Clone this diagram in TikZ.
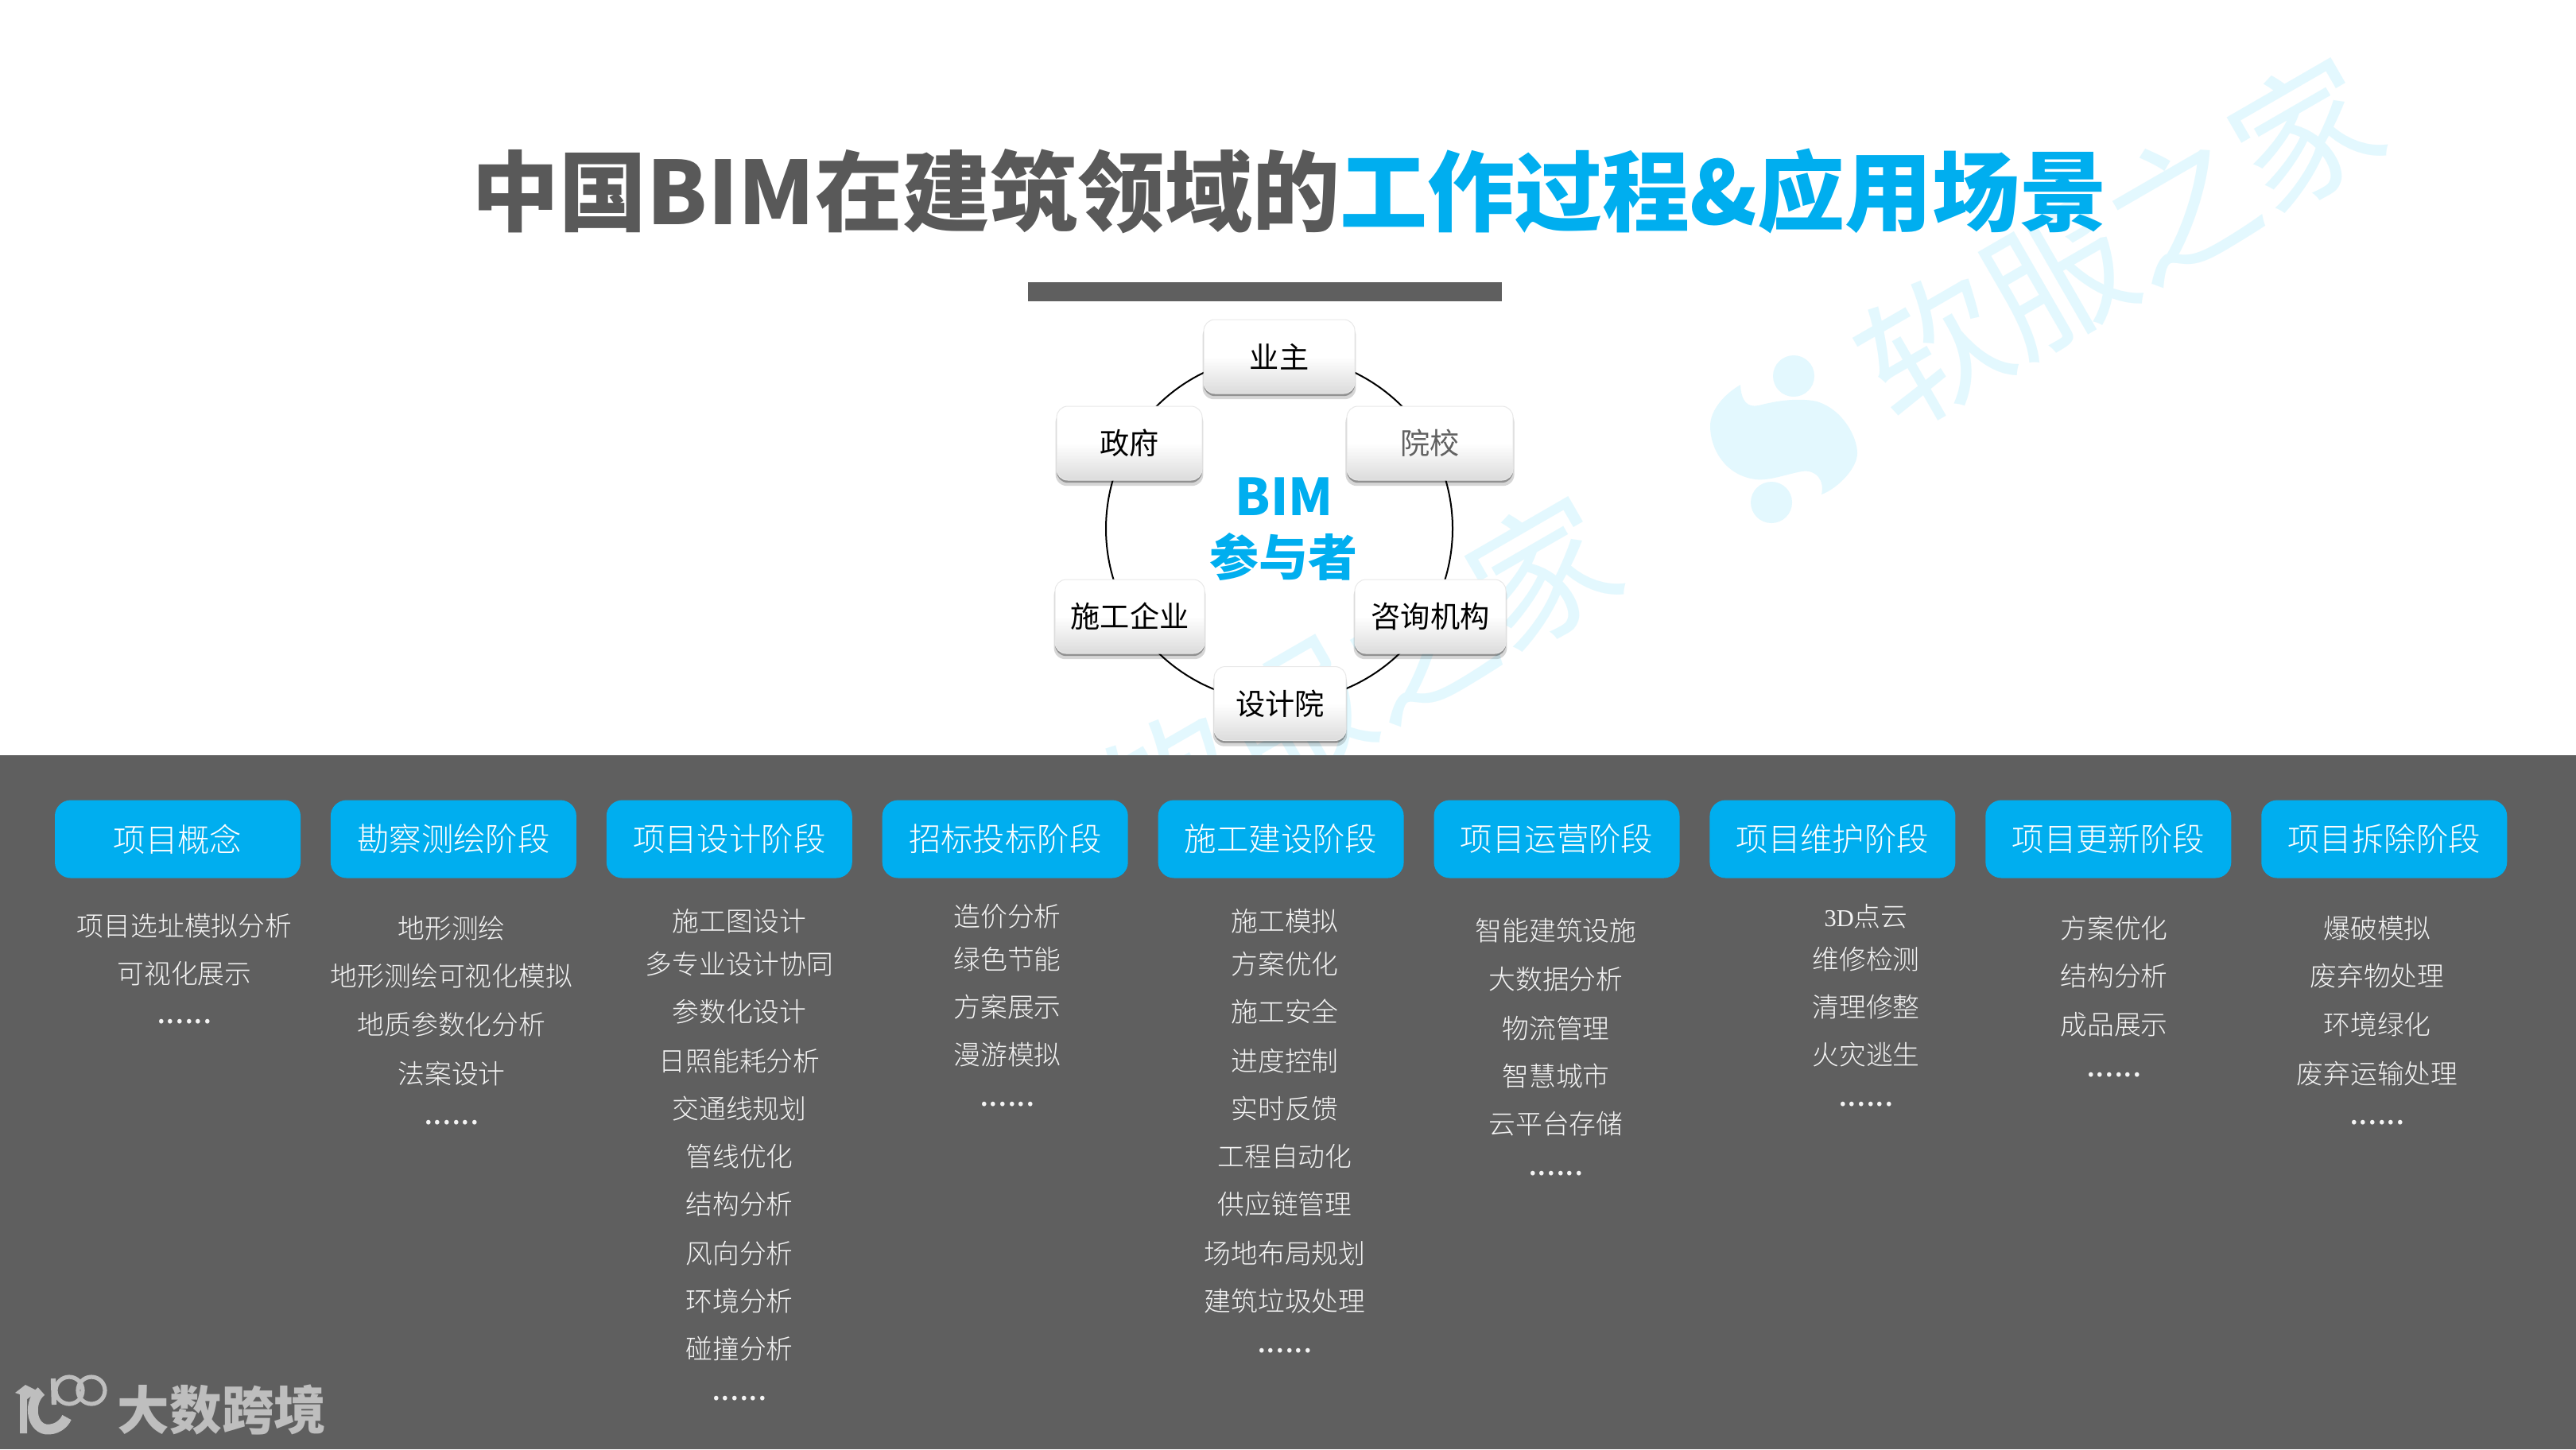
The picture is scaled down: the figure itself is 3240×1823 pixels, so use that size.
\documentclass[tikz,border=0pt]{standalone}
\usepackage{fontspec}
\usetikzlibrary{shadows}
\newfontfamily\cjklight[UprightFont={* Light}]{Noto Sans CJK SC}
\newfontfamily\cjkreg{Noto Sans CJK SC}
\newfontfamily\cjkbold[UprightFont={* Bold}]{Noto Sans CJK SC}
\newfontfamily\cjkblack[UprightFont={* Black}]{Noto Sans CJK SC}
\newfontfamily\serifdigits{Liberation Serif}
\definecolor{brandblue}{HTML}{00AEEF}
\definecolor{band}{HTML}{5F5F5F}
\definecolor{titlegrey}{HTML}{595959}
\definecolor{wm}{HTML}{E3F8FE}
\definecolor{logogrey}{HTML}{BEBEBE}
\definecolor{itemtext}{HTML}{F4F4F4}
\pgfdeclareverticalshading{btnshade}{100bp}{color(0bp)=(black!14); color(25bp)=(black!14); color(50bp)=(white); color(100bp)=(white)}
\tikzset{
  partbox/.style={shading=btnshade,rounded corners=3.5pt,inner sep=0pt,minimum height=23.25pt,
    draw=black!9,line width=.25pt,
    font=\cjkreg\fontsize{9.3}{9.3}\selectfont,text=black,
    drop shadow={shadow xshift=0pt,shadow yshift=-1.6pt,opacity=.16,fill=black,shadow scale=1.015},
    drop shadow={shadow xshift=0pt,shadow yshift=-.8pt,opacity=.32,fill=black}},
  phasebox/.style={fill=brandblue,rounded corners=5pt,inner sep=0pt,minimum width=77.25pt,minimum height=24.5pt,
    text=white,font=\cjklight\fontsize{10.1}{10.1}\selectfont},
  itemtxt/.style={text=itemtext,inner sep=0pt,yshift=-.2pt,font=\cjklight\fontsize{8.45}{8.45}\selectfont,text height=7pt,text depth=1pt},
  dotstxt/.style={text=itemtext,inner sep=0pt,anchor=base,yshift=.75pt,font=\cjkreg\fontsize{10.4}{10.4}\selectfont},
  watermark/.style={text=wm,rotate=30,inner sep=0pt,font=\cjkreg\fontsize{45}{45}\selectfont},
  ringline/.style={draw=black,line width=.5pt,circle,minimum size=109pt,inner sep=0pt},
}
\begin{document}
\begin{tikzpicture}[x=0.25pt,y=-0.25pt]
\useasboundingbox (0,0) rectangle (3240,1823);
\fill[white] (0,0) rectangle (3240,1823);
% watermarks
\node[watermark] (wmA) at (2665,303) {软服之家};
\node[watermark] (wmB) at (1706,855) {软服之家};
\fill[wm] (2256,473) ellipse (26 and 26);
\fill[wm] (2228,632) ellipse (26 and 26);
\fill[wm] (2189,484) .. controls (2190,505) and (2198,513) .. (2212,510)
  .. controls (2235,504) and (2262,500) .. (2285,505)
  .. controls (2318,515) and (2336,550) .. (2336,570)
  .. controls (2336,590) and (2310,615) .. (2291,622)
  .. controls (2295,605) and (2285,590) .. (2266,593)
  .. controls (2245,597) and (2225,605) .. (2208,603)
  .. controls (2170,598) and (2151,565) .. (2151,536)
  .. controls (2151,515) and (2170,495) .. (2189,484) -- cycle;
% band
\fill[band] (0,950) rectangle (3240,1823);
% title
\node[inner sep=0pt,font=\cjkblack\fontsize{27.5}{27.5}\selectfont,text=titlegrey] (title) at (1622,240)
  {中国BIM在建筑领域的\textcolor{brandblue}{工作过程\&应用场景}};
\fill[band] (1293,355) rectangle (1889,379);
% ring and participants
\coordinate (ringc) at (1609,665);
\node[ringline] (ring) at (ringc) {};
\node[partbox,minimum width=47.5pt] (owner) at (1609,448.5) {业主};
\node[partbox,minimum width=45.75pt] (gov) at (1420.5,557.5) {政府};
\node[partbox,minimum width=52.25pt,text=black!62] (school) at (1798.5,557.5) {院校};
\node[partbox,minimum width=47pt] (builder) at (1421,775.5) {施工企业};
\node[partbox,minimum width=47.5pt] (consult) at (1799,775.5) {咨询机构};
\node[partbox,minimum width=41.5pt] (design) at (1610,885) {设计院};
\node[inner sep=0pt,text=brandblue,font=\cjkblack\fontsize{16}{16}\selectfont] (bim) at (1615,625) {BIM};
\node[inner sep=0pt,text=brandblue,font=\cjkblack\fontsize{15.5}{15.5}\selectfont] (part) at (1614,700) {参与者};
% phases
\foreach \n/\t in {0/项目概念,1/勘察测绘阶段,2/项目设计阶段,3/招标投标阶段,4/施工建设阶段,5/项目运营阶段,6/项目维护阶段,7/项目更新阶段,8/项目拆除阶段}
  \node[phasebox] (ph\n) at ({223.5+346.9*\n},1055.5) {\t};
% items
\foreach \yy/\t [count=\k] in {1165/项目选址模拟分析,1225/可视化展示}
  \node[itemtxt] (a\k) at (232,\yy) {\t};
\node[dotstxt] (adots) at (232,1290) {......};
\foreach \yy/\t [count=\k] in {1168/地形测绘,1228/地形测绘可视化模拟,1289/地质参数化分析,1351/法案设计}
  \node[itemtxt] (b\k) at (568,\yy) {\t};
\node[dotstxt] (bdots) at (568,1417) {......};
\foreach \yy/\t [count=\k] in {1159/施工图设计,1213/多专业设计协同,1273/参数化设计,1335/日照能耗分析,1395/交通线规划,1455/管线优化,1515/结构分析,1577/风向分析,1637/环境分析,1697/碰撞分析}
  \node[itemtxt] (c\k) at (930,\yy) {\t};
\node[dotstxt] (cdots) at (930,1764) {......};
\foreach \yy/\t [count=\k] in {1153/造价分析,1207/绿色节能,1267/方案展示,1327/漫游模拟}
  \node[itemtxt] (d\k) at (1267,\yy) {\t};
\node[dotstxt] (ddots) at (1267,1394) {......};
\foreach \yy/\t [count=\k] in {1159/施工模拟,1213/方案优化,1273/施工安全,1335/进度控制,1395/实时反馈,1455/工程自动化,1515/供应链管理,1577/场地布局规划,1637/建筑垃圾处理}
  \node[itemtxt] (e\k) at (1616,\yy) {\t};
\node[dotstxt] (edots) at (1616,1704) {......};
\foreach \yy/\t [count=\k] in {1171/智能建筑设施,1232/大数据分析,1294/物流管理,1354/智慧城市,1414/云平台存储}
  \node[itemtxt] (f\k) at (1957,\yy) {\t};
\node[dotstxt] (fdots) at (1957,1481) {......};
\foreach \yy/\t [count=\k] in {1153/{\serifdigits\fontsize{7.6}{7.6}\selectfont 3D}点云,1207/维修检测,1267/清理修整,1327/火灾逃生}
  \node[itemtxt] (g\k) at (2347,\yy) {\t};
\node[dotstxt] (gdots) at (2347,1394) {......};
\foreach \yy/\t [count=\k] in {1168/方案优化,1228/结构分析,1289/成品展示}
  \node[itemtxt] (h\k) at (2659,\yy) {\t};
\node[dotstxt] (hdots) at (2659,1357) {......};
\foreach \yy/\t [count=\k] in {1168/爆破模拟,1228/废弃物处理,1289/环境绿化,1351/废弃运输处理}
  \node[itemtxt] (i\k) at (2990,\yy) {\t};
\node[dotstxt] (idots) at (2990,1417) {......};
% logo
\node[inner sep=0pt,anchor=west,text=logogrey,font=\cjkblack\fontsize{16.4}{16.4}\selectfont] (brand) at (147,1773) {大数跨境};
\fill[logogrey] (19,1752) -- (32,1742) -- (48,1750) -- (34,1760) -- (34,1803) -- (25,1803) -- (25,1754) -- cycle;
\draw[logogrey,line width=3.2pt] (52,1750) .. controls (36,1762) and (38,1795) .. (58,1798) .. controls (70,1799) and (80,1792) .. (84,1783);
\draw[logogrey,line width=1.3pt] (87,1749) circle (17) (115,1749) circle (17);
\draw[logogrey,line width=1.6pt] (67,1734) -- (68,1767);
\end{tikzpicture}
\end{document}
